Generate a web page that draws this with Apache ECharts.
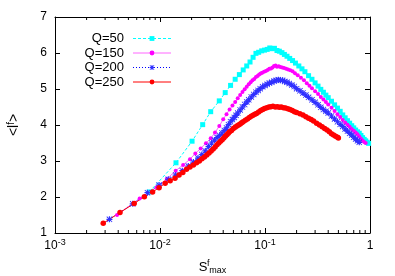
<!DOCTYPE html>
<html><head><meta charset="utf-8">
<script src="https://cdn.jsdelivr.net/npm/echarts@6/dist/echarts.min.js"></script>
<style>html,body{margin:0;padding:0;background:#fff}#c{width:395px;height:276px}</style>
</head><body><div id="c"></div>
<script>
// ---------------- data ----------------
const seriesNames = ['Q=50', 'Q=150', 'Q=200', 'Q=250'];

const q50X = [0.0079,0.0142,0.0202,0.0255,0.0304,0.0367,0.0418,0.047,0.052,0.057,0.062,0.067,0.072,0.077,0.082,0.087,0.093,0.099,0.105,0.111,0.117,0.123,0.130,0.137,0.145,0.153,0.162,0.172,0.183,0.195,0.21,0.225,0.24,0.26,0.28,0.30,0.32,0.34,0.36,0.38,0.40,0.43,0.46,0.49,0.52,0.55,0.58,0.61,0.64,0.67,0.70,0.73,0.76,0.79,0.82,0.85,0.88,0.91,0.94,0.97];
const q50Y = [2.14,2.95,3.55,4.01,4.37,4.67,4.90,5.10,5.27,5.40,5.53,5.64,5.75,5.88,5.99,6.02,6.06,6.08,6.10,6.14,6.12,6.13,6.07,6.05,6.01,5.96,5.91,5.85,5.79,5.72,5.64,5.56,5.48,5.37,5.27,5.17,5.08,4.99,4.91,4.83,4.76,4.66,4.56,4.47,4.38,4.28,4.20,4.12,4.05,3.98,3.92,3.86,3.81,3.77,3.71,3.65,3.60,3.56,3.52,3.49];

const q150X = [0.0039,0.0064,0.0093,0.0116,0.0141,0.0166,0.0193,0.0217,0.0244,0.0274,0.0304,0.0334,0.0367,0.040,0.043,0.046,0.049,0.052,0.055,0.058,0.061,0.064,0.067,0.070,0.073,0.076,0.079,0.082,0.085,0.088,0.091,0.094,0.098,0.102,0.106,0.110,0.114,0.118,0.122,0.126,0.130,0.135,0.140,0.146,0.152,0.159,0.166,0.174,0.183,0.193,0.205,0.22,0.235,0.25,0.265,0.28,0.30,0.32,0.34,0.36,0.38,0.40,0.43,0.46,0.49,0.52,0.55,0.58,0.61,0.64,0.67,0.70,0.73,0.76,0.79,0.82,0.85,0.88,0.91];
const q150Y = [1.50,1.96,2.27,2.50,2.73,2.89,3.05,3.21,3.35,3.49,3.63,3.79,3.97,4.16,4.30,4.43,4.54,4.64,4.74,4.83,4.92,4.99,5.06,5.13,5.19,5.24,5.28,5.33,5.36,5.40,5.43,5.45,5.48,5.50,5.53,5.56,5.57,5.60,5.64,5.65,5.62,5.63,5.61,5.60,5.58,5.56,5.54,5.52,5.49,5.44,5.38,5.31,5.24,5.16,5.09,5.02,4.94,4.86,4.78,4.71,4.64,4.57,4.48,4.39,4.30,4.22,4.14,4.07,4.01,3.95,3.89,3.84,3.79,3.74,3.68,3.62,3.57,3.53,3.50];

const q200X = [0.0033,0.0055,0.0076,0.0098,0.012,0.0141,0.0163,0.0186,0.0208,0.023,0.025,0.027,0.029,0.031,0.033,0.035,0.037,0.039,0.041,0.043,0.045,0.047,0.049,0.051,0.053,0.055,0.058,0.061,0.064,0.067,0.070,0.074,0.078,0.082,0.086,0.090,0.095,0.100,0.105,0.110,0.116,0.122,0.128,0.134,0.140,0.147,0.154,0.162,0.170,0.180,0.19,0.20,0.215,0.23,0.245,0.26,0.28,0.30,0.32,0.34,0.36,0.38,0.40,0.43,0.46,0.49,0.52,0.55,0.58,0.61,0.64,0.67,0.70,0.73,0.76,0.79];
const q200Y = [1.38,1.81,2.12,2.33,2.49,2.61,2.73,2.86,2.97,3.08,3.18,3.28,3.40,3.50,3.58,3.65,3.71,3.78,3.85,3.92,4.01,4.09,4.15,4.21,4.27,4.33,4.42,4.50,4.57,4.64,4.70,4.78,4.85,4.91,4.96,5.01,5.06,5.10,5.13,5.17,5.19,5.22,5.24,5.26,5.24,5.24,5.21,5.19,5.15,5.11,5.07,5.01,4.95,4.89,4.83,4.77,4.70,4.63,4.56,4.49,4.43,4.38,4.33,4.25,4.17,4.09,4.02,3.96,3.89,3.83,3.77,3.72,3.66,3.61,3.56,3.52];

const q250X = [0.00288,0.00416,0.00568,0.0071,0.0085,0.0098,0.0112,0.0125,0.0139,0.0152,0.0165,0.0179,0.0193,0.0208,0.0223,0.0237,0.0251,0.0265,0.0279,0.0293,0.0307,0.0321,0.0335,0.0349,0.0363,0.0377,0.0391,0.0405,0.0419,0.0433,0.0447,0.046,0.048,0.050,0.052,0.054,0.056,0.058,0.060,0.062,0.065,0.068,0.071,0.074,0.077,0.080,0.083,0.087,0.091,0.095,0.099,0.104,0.109,0.114,0.119,0.125,0.131,0.137,0.143,0.150,0.157,0.165,0.173,0.182,0.191,0.20,0.215,0.23,0.245,0.26,0.275,0.29,0.31,0.33,0.35,0.37,0.39,0.41,0.43,0.45,0.47,0.49,0.50];
const q250Y = [1.27,1.57,1.82,2.01,2.14,2.26,2.38,2.45,2.52,2.61,2.68,2.77,2.83,2.89,2.95,3.00,3.06,3.11,3.17,3.22,3.28,3.33,3.39,3.45,3.50,3.55,3.59,3.64,3.69,3.73,3.77,3.81,3.85,3.90,3.94,3.97,4.00,4.03,4.06,4.09,4.13,4.17,4.21,4.24,4.27,4.30,4.32,4.36,4.40,4.43,4.46,4.48,4.50,4.51,4.52,4.50,4.51,4.49,4.50,4.48,4.47,4.45,4.43,4.40,4.37,4.35,4.31,4.28,4.23,4.19,4.15,4.11,4.05,4.00,3.95,3.90,3.86,3.81,3.76,3.72,3.69,3.66,3.64];

const xMin = 0.001, xMax = 1;
const yMin = 1, yMax = 7, yStep = 1;
const xTickValues = [0.001, 0.01, 0.1, 1];
const xTickBase = ['10', '10', '10', '1'];
const xTickExp = ['-3', '-2', '-1', ''];
const xMinorTicks = [0.002,0.003,0.004,0.005,0.006,0.007,0.008,0.009,
                     0.02,0.03,0.04,0.05,0.06,0.07,0.08,0.09,
                     0.2,0.3,0.4,0.5,0.6,0.7,0.8,0.9];

// ---------------- chart ----------------
const FONT = 'Liberation Sans, Arial, sans-serif';
function pairs(xs, ys) { return xs.map((x, i) => [x, ys[i]]); }
function xLabel(v) {
  let idx = 0, best = Infinity;
  xTickValues.forEach((t, j) => { const d = Math.abs(Math.log10(v / t)); if (d < best) { best = d; idx = j; } });
  return xTickExp[idx] ? '{b|' + xTickBase[idx] + '}{s|' + xTickExp[idx] + '}' : '{b|' + xTickBase[idx] + '}';
}
const asterisk = 'path://M4,0H6V10H4Z M0,4H10V6H0Z M1,0L10,9L9,10L0,1Z M9,0L10,1L1,10L0,9Z';

const axisLineStyle = { color: '#000', width: 1 };
const chart = echarts.init(document.getElementById('c'));
chart.setOption({
  animation: false,
  backgroundColor: '#fff',
  grid: { left: 55, right: 25, top: 17, bottom: 43, containLabel: false, outerBoundsMode: 'none' },
  legend: {
    data: seriesNames,
    orient: 'vertical', left: 75, top: 26.5, align: 'right',
    itemWidth: 38, itemHeight: 6, itemGap: 0.5,
    selectedMode: false,
    lineStyle: { width: 1 },
    itemStyle: { borderWidth: 0 },
    textStyle: { fontSize: 13, fontFamily: FONT, color: '#000', width: 44, align: 'right', lineHeight: 14, padding: [0, 4, 0, 0] }
  },
  xAxis: [{
    type: 'log', logBase: 10, min: xMin, max: xMax, position: 'bottom',
    name: '{s|S}{f|f}{m|max}', nameLocation: 'middle', nameGap: 26,
    nameTextStyle: { rich: {
      s: { fontSize: 13, fontFamily: FONT, color: '#000', lineHeight: 16, verticalAlign: 'middle' },
      f: { fontSize: 9, fontFamily: FONT, color: '#000', lineHeight: 9, verticalAlign: 'top', width: 2 },
      m: { fontSize: 9, fontFamily: FONT, color: '#000', lineHeight: 9, verticalAlign: 'bottom' }
    } },
    axisLine: { show: true, lineStyle: axisLineStyle },
    axisTick: { show: true, inside: true, length: 5, lineStyle: axisLineStyle },
    splitLine: { show: false },
    axisLabel: { margin: 5, formatter: xLabel, rich: {
      b: { fontSize: 12, fontFamily: FONT, color: '#000', lineHeight: 14, padding: [1, 0, 0, 0], verticalAlign: 'bottom' },
      s: { fontSize: 9, fontFamily: FONT, color: '#000', lineHeight: 9, verticalAlign: 'top' }
    } }
  }, {
    type: 'log', logBase: 10, min: xMin, max: xMax, position: 'top',
    axisLine: { show: true, lineStyle: axisLineStyle },
    axisTick: { show: true, inside: true, length: 5, lineStyle: axisLineStyle },
    axisLabel: { show: false }, splitLine: { show: false }
  }],
  yAxis: [{
    type: 'value', min: yMin, max: yMax, interval: yStep, position: 'left',
    name: '{a|<l}{f|f}{a|>}', nameLocation: 'middle', nameGap: 33, nameRotate: 90,
    nameTextStyle: { rich: {
      a: { fontSize: 14, fontFamily: FONT, color: '#000', lineHeight: 16, verticalAlign: 'middle' },
      f: { fontSize: 10, fontFamily: FONT, color: '#000', lineHeight: 10, verticalAlign: 'top' }
    } },
    axisLine: { show: true, lineStyle: axisLineStyle },
    axisTick: { show: true, inside: true, length: 5, lineStyle: axisLineStyle },
    splitLine: { show: false },
    axisLabel: { fontSize: 12, fontFamily: FONT, color: '#000', margin: 8 }
  }, {
    type: 'value', min: yMin, max: yMax, interval: yStep, position: 'right',
    axisLine: { show: true, lineStyle: axisLineStyle },
    axisTick: { show: true, inside: true, length: 5, lineStyle: axisLineStyle },
    axisLabel: { show: false }, splitLine: { show: false }
  }],
  series: [
    {
      name: seriesNames[0], type: 'line', data: pairs(q50X, q50Y),
      symbol: 'rect', symbolSize: 5, showSymbol: true,
      itemStyle: { color: '#00ffff' },
      lineStyle: { color: '#00ffff', width: 1, type: [3, 2] }
    },
    {
      name: seriesNames[1], type: 'line', data: pairs(q150X, q150Y),
      symbol: 'circle', symbolSize: 4, showSymbol: true,
      itemStyle: { color: '#ff00ff' },
      lineStyle: { color: '#ff00ff', width: 1, opacity: 0.6 }
    },
    {
      name: seriesNames[2], type: 'line', data: pairs(q200X, q200Y),
      symbol: asterisk, symbolSize: 6, showSymbol: true,
      itemStyle: { color: '#3030ff' },
      lineStyle: { color: '#0000ff', width: 1, type: [1, 2] }
    },
    {
      name: seriesNames[3], type: 'line', data: pairs(q250X, q250Y),
      symbol: 'circle', symbolSize: 5.5, showSymbol: true,
      itemStyle: { color: '#ff0000' },
      lineStyle: { color: '#ff0000', width: 1 }
    },
    {
      type: 'custom', xAxisIndex: 0, yAxisIndex: 0, silent: true, clip: false, z: 5,
      data: xMinorTicks.map(v => [v, yMin]),
      encode: { x: 0, y: 1 },
      renderItem: function (params, api) {
        const v = api.value(0);
        const b = api.coord([v, yMin]);
        const t = api.coord([v, yMax]);
        return { type: 'group', children: [
          { type: 'line', shape: { x1: b[0], y1: b[1], x2: b[0], y2: b[1] - 3 }, style: { stroke: '#000', lineWidth: 1 } },
          { type: 'line', shape: { x1: t[0], y1: t[1], x2: t[0], y2: t[1] + 3 }, style: { stroke: '#000', lineWidth: 1 } }
        ] };
      }
    }
  ]
});
</script>
</body></html>
